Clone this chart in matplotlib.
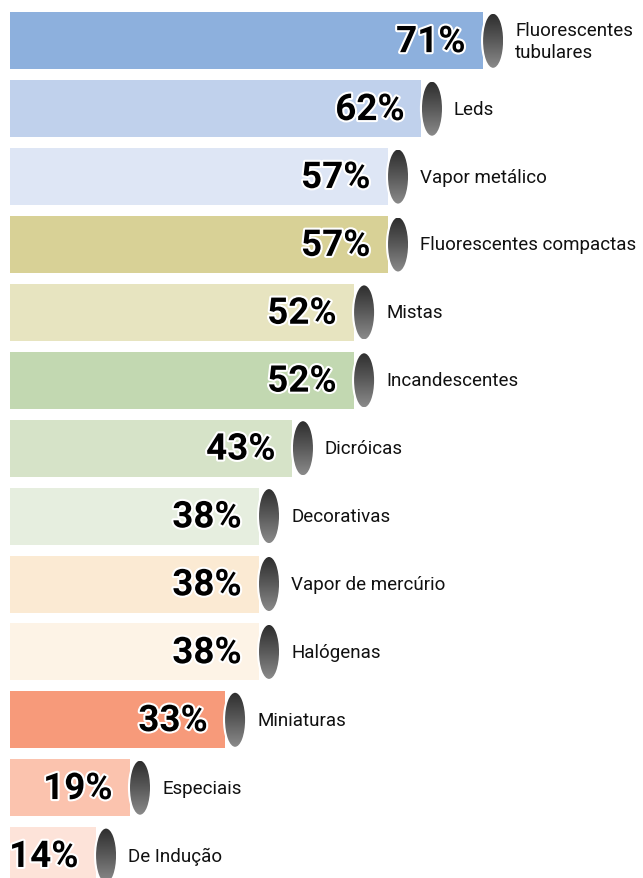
import numpy as np
import matplotlib
matplotlib.use('Agg')
import matplotlib.pyplot as plt
from matplotlib.patches import Ellipse
import matplotlib.patheffects as pe
from matplotlib.colors import LinearSegmentedColormap

categories = ["Fluorescentes\ntubulares", "Leds", "Vapor metálico", "Fluorescentes compactas",
              "Mistas", "Incandescentes", "Dicróicas", "Decorativas", "Vapor de mercúrio",
              "Halógenas", "Miniaturas", "Especiais", "De Indução"]
values = [71, 62, 57, 57, 52, 52, 43, 38, 38, 38, 33, 19, 14]
colors = ["#8DB0DD", "#C0D1EC", "#DEE6F5", "#D8D196", "#E7E4C0", "#C2D8B1", "#D6E3C8",
          "#E6EEDF", "#FBEAD3", "#FDF3E6", "#F79A7A", "#FBC3AE", "#FDE3D9"]

W, H = 643, 879
fig = plt.figure(figsize=(W / 100, H / 100), dpi=100)
ax = fig.add_axes([0, 0, 1, 1])
ax.axis('off')

px = 6.79      # pixels per percent
x0 = 0.5       # pixel position of 0%
row0, step = 41.8, 67.9
xlim = ((0 - x0) / px, (W - x0) / px)
ylim = ((H - row0) / step, -row0 / step)

left = (10 - x0) / px
bar_h = 57 / step
ell_w = 20 / px
ell_h = 54 / step

y = np.arange(len(values))
ax.barh(y, [v - left for v in values], left=left, height=bar_h, color=colors, zorder=1)

cmap = LinearSegmentedColormap.from_list("g", ["#2e2e2e", "#5a5a5a", "#8a8a8a"])
grad = np.linspace(0, 1, 100).reshape(-1, 1)

for i, (v, cat) in enumerate(zip(values, categories)):
    cx = v + 10.5 / px
    ax.add_patch(Ellipse((cx, i), ell_w, ell_h, facecolor="white", edgecolor="white",
                         linewidth=3.0, zorder=2))
    clip = Ellipse((cx, i), ell_w, ell_h, facecolor="none", edgecolor="none",
                   transform=ax.transData)
    ax.add_patch(clip)
    im = ax.imshow(grad, cmap=cmap, extent=(cx - ell_w / 2, cx + ell_w / 2, i + ell_h / 2, i - ell_h / 2),
                   aspect='auto', origin='upper', zorder=3, interpolation='bilinear')
    im.set_clip_path(clip)
    ax.text(v - 17 / px, i + 0.02, f"{v}%", ha='right', va='center', fontsize=26.5,
            fontweight='bold', family='Roboto', color='black', zorder=4,
            path_effects=[pe.withStroke(linewidth=3, foreground='white')])
    ax.text(cx + 22 / px, i, cat, ha='left', va='center', fontsize=13.5,
            family='Roboto', color='#111111', linespacing=1.25, zorder=4)

ax.set_xlim(*xlim)
ax.set_ylim(*ylim)
fig.savefig("out.png", dpi=100)
